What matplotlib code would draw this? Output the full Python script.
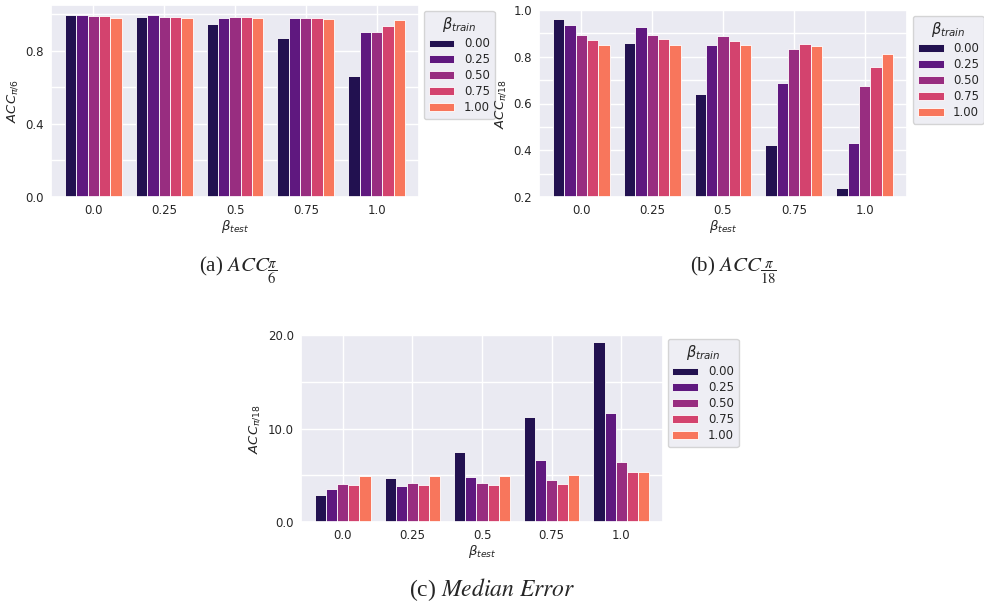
import matplotlib
matplotlib.use("Agg")
import matplotlib.pyplot as plt
import numpy as np
import seaborn as sns

sns.set_theme(style="darkgrid")
plt.rcParams["font.family"] = ["DejaVu Sans"]

BETA_TEST = ["0.0", "0.25", "0.5", "0.75", "1.0"]
BETA_TRAIN = ["0.00", "0.25", "0.50", "0.75", "1.00"]

# rows: beta_train, columns: beta_test
ACC_PI6 = [
    [0.995, 0.986, 0.946, 0.868, 0.659],
    [0.997, 0.997, 0.979, 0.979, 0.902],
    [0.992, 0.986, 0.986, 0.979, 0.902],
    [0.988, 0.986, 0.983, 0.979, 0.937],
    [0.981, 0.981, 0.981, 0.975, 0.968],
]
ACC_PI18 = [
    [0.961, 0.860, 0.640, 0.421, 0.237],
    [0.936, 0.926, 0.849, 0.686, 0.430],
    [0.894, 0.894, 0.890, 0.833, 0.677],
    [0.871, 0.874, 0.869, 0.854, 0.757],
    [0.851, 0.851, 0.851, 0.846, 0.813],
]
MEDIAN_ERR = [
    [2.89, 4.68, 7.50, 11.25, 19.21],
    [3.57, 3.82, 4.79, 6.61, 11.71],
    [4.11, 4.18, 4.18, 4.54, 6.43],
    [3.96, 3.96, 3.96, 4.11, 5.32],
    [4.93, 4.93, 4.93, 5.00, 5.39],
]

COLORS = sns.color_palette("magma", 6)[:5]
W, H = 984, 603


def px_axes(fig, left, top, right, bottom):
    return fig.add_axes([left / W, 1 - bottom / H, (right - left) / W, (bottom - top) / H])


def draw_bars(ax, values, ylabel, ylim, yticks, yticklabels, legend_box):
    x = np.arange(len(BETA_TEST))
    width = 0.8 / len(BETA_TRAIN)
    for i, (label, row) in enumerate(zip(BETA_TRAIN, values)):
        offset = (i - (len(BETA_TRAIN) - 1) / 2) * width
        ax.bar(x + offset, row, width, color=COLORS[i], edgecolor="white",
               linewidth=0.6, label=label)
    ax.set_xlim(-0.6, len(BETA_TEST) - 0.4)
    ax.set_xticks(x)
    ax.set_xticklabels(BETA_TEST, fontsize=8.5)
    ax.set_ylim(*ylim)
    ax.set_yticks(yticks)
    ax.set_yticklabels(yticklabels, fontsize=8.5)
    ax.tick_params(axis="both", length=0, pad=5)
    ax.set_xlabel(r"$\beta_{test}$", fontsize=9.5, labelpad=1)
    ax.set_ylabel(ylabel, fontsize=9.5, labelpad=4)
    leg = ax.legend(title=r"$\beta_{train}$", loc="upper left",
                    bbox_to_anchor=legend_box, fontsize=8.5, title_fontsize=10.5,
                    handlelength=2.2, handleheight=0.6, labelspacing=0.25,
                    borderaxespad=0, frameon=True)
    leg.get_frame().set_facecolor("#EAEAF2")
    leg.get_frame().set_edgecolor("#cccccc")


fig = plt.figure(figsize=(W / 100, H / 100), dpi=100)

ax_a = px_axes(fig, 51, 5, 419, 197)
draw_bars(ax_a, ACC_PI6, r"$ACC_{\pi/6}$", (0, 1.05),
          [0.0, 0.2, 0.4, 0.6, 0.8, 1.0], ["0.0", "", "0.4", "", "0.8", ""],
          (1.013, 0.97))

ax_b = px_axes(fig, 539, 10, 907, 197)
draw_bars(ax_b, ACC_PI18, r"$ACC_{\pi/18}$", (0.2, 1.0),
          [0.2, 0.3, 0.4, 0.5, 0.6, 0.7, 0.8, 0.9, 1.0],
          ["0.2", "", "0.4", "", "0.6", "", "0.8", "", "1.0"],
          (1.016, 0.97))

ax_c = px_axes(fig, 301, 335, 663, 522)
draw_bars(ax_c, MEDIAN_ERR, r"$ACC_{\pi/18}$", (0, 20),
          [0, 5, 10, 15, 20], ["0.0", "", "10.0", "", "20.0"],
          (1.013, 0.98))

cap = dict(fontsize=15, family="Liberation Serif", ha="center", va="center",
           math_fontfamily="stix")
fig.text(238 / W, 1 - 270 / H, r"(a) $ACC_{\dfrac{\pi}{6}}$", **cap)
fig.text(733 / W, 1 - 270 / H, r"(b) $ACC_{\dfrac{\pi}{18}}$", **cap)
fig.text(492 / W, 1 - 590 / H, r"(c) $\mathit{Median\ Error}$",
         **{**cap, "fontsize": 17})

fig.savefig("out.png", dpi=100)
